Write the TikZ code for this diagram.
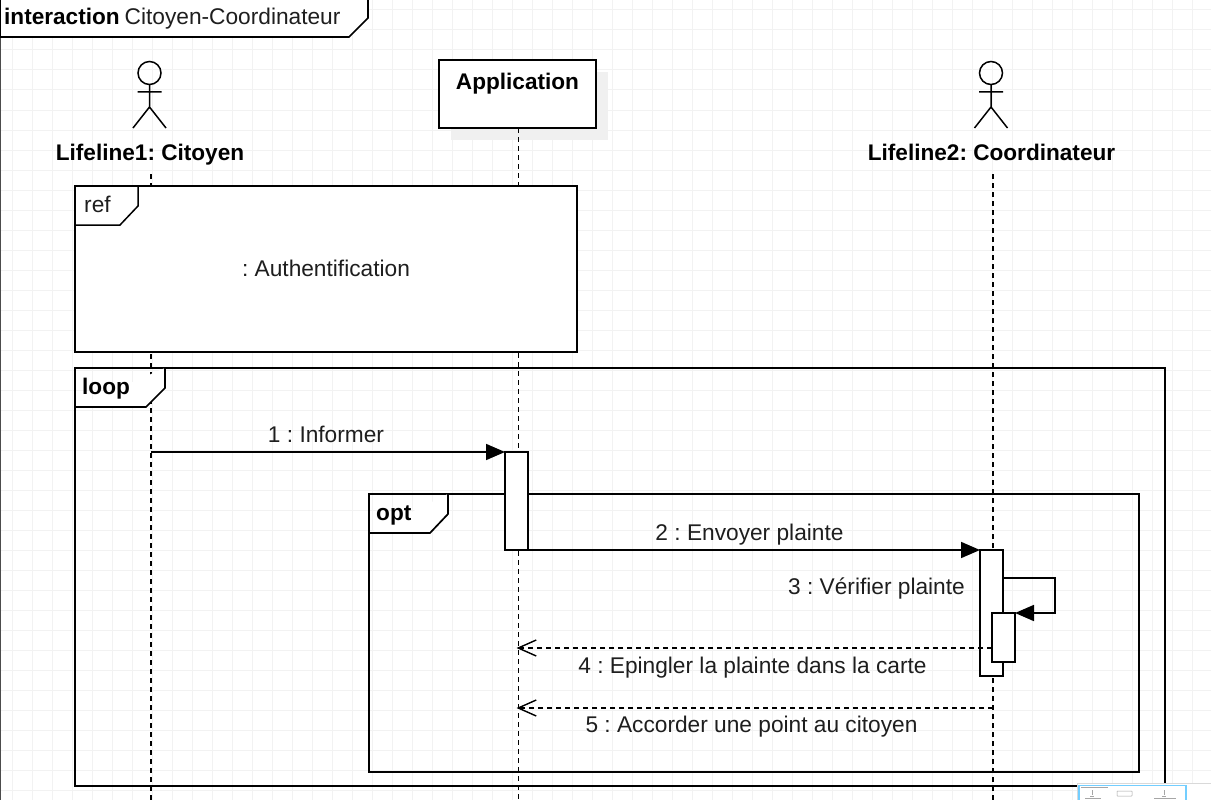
\documentclass[tikz,border=0pt]{standalone}
\usepackage{fontspec}
\setmainfont{Liberation Sans}
\frenchspacing
\usetikzlibrary{arrows.meta}
\definecolor{gridgray}{RGB}{242,242,242}
\definecolor{inkgray}{RGB}{30,30,30}
\tikzset{
    lineline/.style={draw=black,line width=1.6pt,dash pattern=on 5pt off 4pt},
    framebox/.style={draw=black,line width=1.7pt,fill=white,outer sep=0pt,inner sep=0pt},
    activation/.style={draw=black,line width=1.7pt,fill=white,outer sep=0pt,inner sep=0pt},
    sendmsg/.style={draw=black,line width=1.7pt,-{Triangle[length=19pt,width=16pt]}},
    replymsg/.style={draw=black,line width=1.6pt,dash pattern=on 5pt off 4pt,-{Straight Barb[length=18pt,width=16pt,line width=1.4pt]}},
    msglabel/.style={font=\fontsize{22.7}{26}\selectfont,text=inkgray,inner sep=0pt,anchor=base},
    boldlabel/.style={font=\fontsize{22.6}{26}\selectfont\bfseries,text=black,inner sep=0pt,anchor=base},
    minimap/.style={draw=black!35,line width=0.5pt},
}
\begin{document}
\begin{tikzpicture}[x=1pt,y=-1pt]
    \useasboundingbox (0,0) rectangle (1211,800);
    %% Grid
    \foreach \gx in {12,32,...,1212} \draw[gridgray,line width=1pt] (\gx,0) -- (\gx,800);
    \foreach \gy in {10,30,...,800} \draw[gridgray,line width=1pt] (0,\gy) -- (1211,\gy);
    %% Outer frame
    \draw[draw=black!70,line width=1.7pt] (0.5,0) -- (0.5,800);
    \draw[framebox] (0,0) -- (0,37) -- (349,37) -- (368,18) -- (368,0);
    \node[boldlabel,anchor=base west] (title) at (4,25) {interaction};
    \node[msglabel,anchor=base west] (titlename) at (124.5,25) {Citoyen-Coordinateur};
    %% Actors
    \foreach \ax in {149.5,991} {
        \draw[line width=1.5pt] (\ax,73) circle (11.5pt);
        \draw[line width=1.5pt] (\ax,84.5) -- (\ax,107) (\ax-12,92) -- (\ax+12,92)
            (\ax-16.5,128) -- (\ax,107) -- (\ax+16.5,128);
    }
    \node[boldlabel] (citoyen) at (150,160) {Lifeline1: Citoyen};
    \node[boldlabel] (coord) at (991.5,160) {Lifeline2: Coordinateur};
    %% Application
    \fill[black!6] (451,72) rectangle (608,140);
    \node[framebox,minimum width=157pt,minimum height=68pt,anchor=north west] (app) at (439,60) {};
    \node[boldlabel] (applabel) at (517.5,90) {Application};
    %% Lifelines
    \coordinate (citoyenend) at (151,800);
    \coordinate (append) at (518.5,800);
    \coordinate (coordend) at (993,800);
    \draw[lineline] (151,174) -- (citoyenend);
    \draw[lineline] (app.south) ++(1,0) -- (append);
    \draw[lineline] (993,174) -- (coordend);
    %% ref
    \node[framebox,minimum width=502pt,minimum height=166pt,anchor=north west] (refbox) at (75,186) {};
    \draw[line width=1.5pt] (75,225) -- (120,225) -- (138,206) -- (138,186);
    \node[msglabel,anchor=base west] (reflabel) at (84,212) {ref};
    \node[msglabel] (authlabel) at (326,276) {: Authentification};
    %% loop
    \draw[framebox,fill=none] (75,368) rectangle (1165,786);
    \draw[framebox] (75,407) -- (146,407) -- (165,388) -- (165,368);
    \node[boldlabel,anchor=base west] (looplabel) at (82,394) {loop};
    %% opt
    \draw[framebox,fill=none] (369,494) rectangle (1139,772);
    \draw[framebox] (369,533) -- (430,533) -- (448,514) -- (448,494);
    \node[boldlabel,anchor=base west] (optlabel) at (376,520) {opt};
    %% Activations
    \node[activation,minimum width=23pt,minimum height=98pt,anchor=north west] (appact) at (505,452) {};
    \node[activation,minimum width=23pt,minimum height=126pt,anchor=north west] (coordact) at (980,550) {};
    \node[activation,minimum width=23pt,minimum height=49pt,anchor=north west] (selfact) at (992,613) {};
    %% Messages
    \coordinate (citoyenmsg) at (151,452);
    \draw[sendmsg] (citoyenmsg) -- (appact.north west);
    \node[msglabel] (msgone) at (326,442) {1 : Informer};
    \draw[sendmsg] (appact.south east) -- (coordact.north west);
    \node[msglabel] (msgtwo) at (749.5,540) {2 : Envoyer plainte};
    \draw[sendmsg] (coordact.east |- 0,578) -- (1055,578) -- (1055,613) -- (selfact.north east);
    \node[msglabel] (msgthree) at (876.5,594) {3 : Vérifier plainte};
    \coordinate (replyfour) at (516.5,648);
    \coordinate (replyfive) at (516.5,708);
    \draw[replymsg] (selfact.west |- replyfour) -- (replyfour);
    \node[msglabel] (msgfour) at (752.5,673) {4 : Epingler la plainte dans la carte};
    \draw[replymsg] (993,708) -- (replyfive);
    \node[msglabel] (msgfive) at (751.5,732) {5 : Accorder une point au citoyen};
    %% Minimap
    \fill[white] (1077,783) rectangle (1211,800);
    \draw[black!15,line width=0.8pt] (1077,800) -- (1077,783) -- (1211,783);
    \draw[blue!35!cyan!55,line width=1.3pt] (1079,800) -- (1079,785.5) -- (1186,785.5) -- (1186,800);
    \draw[minimap] (1081,787) -- (1108,787);
    \draw[minimap] (1092,790) -- (1092,795) (1090,796) -- (1094,796);
    \draw[minimap,rounded corners=0.5pt] (1117,791) rectangle (1132,796);
    \draw[minimap] (1164,790) -- (1164,795) (1162,796) -- (1166,796);
    \draw[minimap] (1085,798.5) -- (1101,798.5) (1154,798.5) -- (1176,798.5);
\end{tikzpicture}
\end{document}
